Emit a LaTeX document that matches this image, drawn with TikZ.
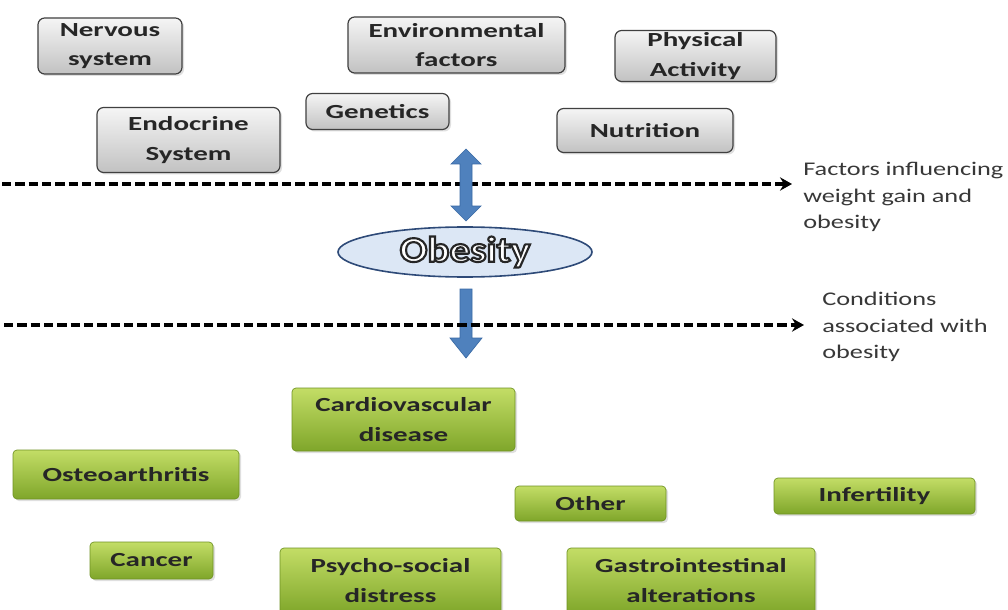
\documentclass[tikz,border=0pt]{standalone}
\usepackage{fontspec}
\setmainfont{Carlito}[FakeStretch=1.36, BoldFeatures={FakeStretch=1.45}]
\newfontfamily\obfont{Carlito}[FakeStretch=1.14]
\usetikzlibrary{shapes.geometric,shadows,arrows.meta}
\definecolor{arrblue}{HTML}{4F81BD}
\definecolor{arredge}{HTML}{3A6AA5}
\definecolor{ellfill}{HTML}{DCE7F5}
\definecolor{elldraw}{HTML}{2E4A78}
\definecolor{gtop}{HTML}{C3DD66}
\definecolor{gbot}{HTML}{7FA62A}
\definecolor{gedge}{HTML}{6F9322}
\newcommand{\outlinetext}[1]{\textcolor{white}{\special{pdf:literal direct 2 Tr 1.6 w 0.15 G}#1\special{pdf:literal direct 0 Tr}}}
\tikzset{
  greybox/.style={rectangle, rounded corners=5, draw=black!75, line width=0.9pt,
    top color=black!4, bottom color=black!24, align=center,
    font=\bfseries\fontsize{15}{22}\selectfont, text=black!85, inner sep=0,
    drop shadow={shadow xshift=1.5pt, shadow yshift=-1.5pt, opacity=0.25}},
  greenbox/.style={rectangle, rounded corners=3, draw=gedge, line width=0.5pt,
    top color=gtop, bottom color=gbot, align=center,
    font=\bfseries\fontsize{15}{22.5}\selectfont, text=black!85, inner sep=0,
    drop shadow={shadow xshift=1.5pt, shadow yshift=-1.5pt, opacity=0.25}},
  sidetext/.style={align=left, anchor=west, font=\fontsize{14.5}{20}\selectfont,
    text=black!78, inner sep=0},
  dashline/.style={draw=black, line width=2.4pt, dash pattern=on 7pt off 3pt,
    -{Stealth[length=9pt, width=10pt, inset=3pt]}},
  blockarrow/.style={fill=arrblue, draw=arredge, line width=0.5pt}
}
\begin{document}
\begin{tikzpicture}[x=0.75pt, y=-0.75pt]
\useasboundingbox (0,0) rectangle (1008,610);
\clip (0,0) rectangle (1008,610);
\fill[white] (0,0) rectangle (1008,610);

% top grey boxes
\node[greybox, minimum width=108pt, minimum height=42pt] (ns) at (110,46) {Nervous\\system};
\node[greybox, minimum width=162.75pt, minimum height=42pt] (env) at (456.5,45) {Environmental\\factors};
\node[greybox, minimum width=120.75pt, minimum height=38.25pt] (phys) at (695.5,56) {Physical\\Activity};
\node[greybox, minimum width=107.25pt, minimum height=27pt] (gen) at (377.5,111.5) {Genetics};
\node[greybox, minimum width=137.25pt, minimum height=48.75pt] (endo) at (188.5,140) {Endocrine\\System};
\node[greybox, minimum width=132pt, minimum height=33pt] (nut) at (645,130.5) {Nutrition};

% dashed line 1
\coordinate (l1s) at (2,184);
\coordinate (l1e) at (792,184);
\draw[dashline] (l1s) -- (l1e);
\node[sidetext] (f1) at (803,197) {Factors influencing\\weight gain and\\obesity};

% obesity ellipse
\node[ellipse, draw=elldraw, line width=1.2pt, fill=ellfill, minimum width=190.5pt,
  minimum height=37.5pt, inner sep=0] (ob) at (465,252)
  {\obfont\bfseries\fontsize{27}{30}\selectfont\outlinetext{Obesity}};

% double arrow
\filldraw[blockarrow] (466,149) -- (481,164) -- (472,164) -- (472,206) -- (481,206)
  -- (466,221) -- (451,206) -- (460,206) -- (460,164) -- (451,164) -- cycle;

% down arrow
\filldraw[blockarrow] (460,289) -- (472,289) -- (472,338) -- (482,338) -- (466,358)
  -- (450,338) -- (460,338) -- cycle;

% dashed line 2
\coordinate (l2s) at (4,325);
\coordinate (l2e) at (804,325);
\draw[dashline] (l2s) -- (l2e);
\node[sidetext] (f2) at (822,327) {Conditions\\associated with\\obesity};

% green boxes
\node[greenbox, minimum width=167.25pt, minimum height=47.25pt] (cvd) at (403.5,419.5) {Cardiovascular\\disease};
\node[greenbox, minimum width=169.5pt, minimum height=36.75pt] (ost) at (126,474.5) {Osteoarthritis};
\node[greenbox, minimum width=113.25pt, minimum height=26.25pt] (oth) at (590.5,503.5) {Other};
\node[greenbox, minimum width=150.75pt, minimum height=27pt] (inf) at (874.5,496) {Infertility};
\node[greenbox, minimum width=92.25pt, minimum height=27.75pt] (can) at (151.5,560.5) {Cancer};
\node[greenbox, minimum width=165.75pt, minimum height=49.5pt] (psy) at (390.5,581) {Psycho-social\\distress};
\node[greenbox, minimum width=186pt, minimum height=49.5pt] (gas) at (691,581) {Gastrointestinal\\alterations};
\end{tikzpicture}
\end{document}
